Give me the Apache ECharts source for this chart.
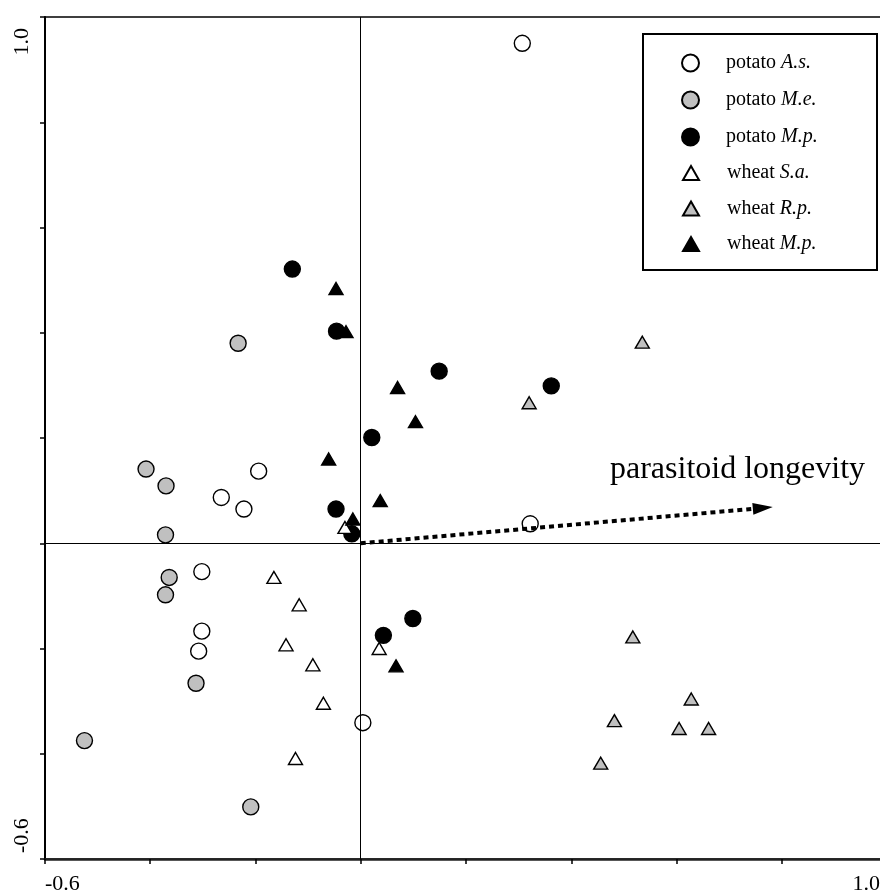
<!DOCTYPE html>
<html>
<head>
<meta charset="utf-8">
<script src="https://cdn.jsdelivr.net/npm/echarts@6/dist/echarts.min.js"></script>
<style>
  html, body { margin: 0; padding: 0; background: #fff; overflow: hidden; }
  #chart { width: 900px; height: 895px; }
</style>
</head>
<body>
<div id="chart"></div>
<script>
// Ordination scores per host/parasitoid group: [axis 1, axis 2]
const potatoAs = [
  [0.307, 0.950], [-0.194, 0.137], [-0.265, 0.087], [-0.222, 0.065], [-0.302, -0.054],
  [-0.302, -0.167], [-0.308, -0.205], [0.004, -0.341], [0.322, 0.037]
];
const potatoMe = [
  [-0.233, 0.380], [-0.408, 0.141], [-0.370, 0.109], [-0.371, 0.016], [-0.364, -0.065],
  [-0.371, -0.098], [-0.313, -0.266], [-0.525, -0.375], [-0.209, -0.501]
];
const potatoMp = [
  [-0.130, 0.521], [-0.046, 0.403], [0.149, 0.327], [0.021, 0.201], [-0.047, 0.065],
  [-0.017, 0.018], [0.099, -0.143], [0.043, -0.175], [0.362, 0.299]
];
const wheatSa = [
  [-0.030, 0.030], [-0.165, -0.065], [-0.117, -0.117], [-0.142, -0.193], [0.035, -0.200],
  [-0.091, -0.231], [-0.071, -0.304], [-0.124, -0.409]
];
const wheatRp = [
  [0.535, 0.382], [0.320, 0.267], [0.517, -0.178], [0.628, -0.296], [0.482, -0.337],
  [0.605, -0.352], [0.661, -0.352], [0.456, -0.418]
];
const wheatMp = [
  [-0.047, 0.484], [-0.028, 0.402], [0.070, 0.296], [0.104, 0.231], [-0.061, 0.160],
  [0.037, 0.081], [-0.015, 0.046], [0.067, -0.233]
];

// Environmental vector
const arrowStart = [0, 0];
const arrowEnd = [0.764, 0.067];
const arrowLabel = 'parasitoid longevity';

// Axis range and tick labels
const axisMin = -0.6;
const axisMax = 1.0;
const tickStep = 0.2;
const tickLabels = { '-0.6': '-0.6', '1.0': '1.0' };

const groups = [
  { name: 'potato A.s.', host: 'potato', sp: 'A.s.', data: potatoAs, shape: 'circle', fill: '#ffffff' },
  { name: 'potato M.e.', host: 'potato', sp: 'M.e.', data: potatoMe, shape: 'circle', fill: '#c0c0c0' },
  { name: 'potato M.p.', host: 'potato', sp: 'M.p.', data: potatoMp, shape: 'circle', fill: '#000000' },
  { name: 'wheat S.a.', host: 'wheat', sp: 'S.a.', data: wheatSa, shape: 'triangle', fill: '#ffffff' },
  { name: 'wheat R.p.', host: 'wheat', sp: 'R.p.', data: wheatRp, shape: 'triangle', fill: '#c0c0c0' },
  { name: 'wheat M.p.', host: 'wheat', sp: 'M.p.', data: wheatMp, shape: 'triangle', fill: '#000000' }
];

const SERIF = '"Liberation Serif", "Times New Roman", serif';

// Only the two end ticks carry a label; styles keep them inside the frame
function tickText(v) {
  const key = (Math.round(v * 10) / 10).toFixed(1);
  return tickLabels[key] !== undefined ? tickLabels[key] : '';
}
function fmtEnd(v) {
  const t = tickText(v);
  if (!t) return '';
  return v > 0 ? '{mx|' + t + '}' : '{mn|' + t + '}';
}

const scatterSeries = groups.map(g => ({
  name: g.name,
  type: 'scatter',
  data: g.data,
  symbol: g.shape,
  symbolSize: g.shape === 'circle' ? 16 : [14, 12],
  itemStyle: { color: g.fill, borderColor: '#000', borderWidth: 1.4, opacity: 1 },
  z: g.shape === 'circle' ? 3 : 4
}));

// Reference cross through the origin
scatterSeries[0].markLine = {
  silent: true,
  symbol: 'none',
  animation: false,
  label: { show: false },
  lineStyle: { color: '#000', width: 1, type: 'solid' },
  data: [{ xAxis: 0 }, { yAxis: 0 }]
};

const legendRich = {
  g: { width: 22 },
  a: { fontFamily: SERIF, fontSize: 20, color: '#000' },
  b: { fontFamily: SERIF, fontSize: 20, color: '#000', fontStyle: 'italic' }
};
function legendFmt(name) {
  const g = groups.find(x => x.name === name);
  return '{g|}{a|' + g.host + ' }{b|' + g.sp + '}';
}

const labelBase = { fontFamily: SERIF, fontSize: 22, color: '#000' };

const option = {
  animation: false,
  backgroundColor: '#fff',
  grid: {
    left: 45, top: 17, width: 842, height: 842,
    show: true, borderColor: '#000', borderWidth: 1.5, backgroundColor: 'transparent'
  },
  xAxis: {
    type: 'value', min: axisMin, max: axisMax, interval: tickStep,
    splitLine: { show: false },
    axisLine: { onZero: false, lineStyle: { color: '#222', width: 2.5 } },
    axisTick: { length: 5, lineStyle: { color: '#000', width: 1.5 } },
    axisLabel: {
      formatter: fmtEnd, margin: 14,
      showMinLabel: true, showMaxLabel: true,
      alignMinLabel: 'left', alignMaxLabel: 'right',
      rich: {
        mn: Object.assign({}, labelBase),
        mx: Object.assign({}, labelBase, { padding: [0, 7, 0, 0] })
      }
    }
  },
  yAxis: {
    type: 'value', min: axisMin, max: axisMax, interval: tickStep,
    splitLine: { show: false },
    axisLine: { onZero: false, lineStyle: { color: '#000', width: 2 } },
    axisTick: { length: 5, lineStyle: { color: '#000', width: 1.5 } },
    axisLabel: {
      formatter: fmtEnd, margin: 12,
      rotate: 90, showMinLabel: true, showMaxLabel: true,
      alignMinLabel: 'left', alignMaxLabel: 'right',
      rich: {
        mn: Object.assign({}, labelBase, { padding: [0, 0, 0, 6] }),
        mx: Object.assign({}, labelBase, { padding: [0, 11, 0, 0] })
      }
    }
  },
  legend: [
    {
      data: groups.slice(0, 3).map(g => g.name),
      orient: 'vertical', left: 681, top: 53, padding: 0,
      itemWidth: 17, itemHeight: 17, itemGap: 17,
      formatter: legendFmt,
      textStyle: { fontFamily: SERIF, fontSize: 20, lineHeight: 20, color: '#000', rich: legendRich },
      selectedMode: false
    },
    {
      data: groups.slice(3).map(g => g.name),
      orient: 'vertical', left: 682, top: 163, padding: 0,
      itemWidth: 16, itemHeight: 14, itemGap: 15.5,
      formatter: legendFmt,
      textStyle: { fontFamily: SERIF, fontSize: 20, lineHeight: 20, color: '#000', rich: Object.assign({}, legendRich, { g: { width: 23 } }) },
      selectedMode: false
    }
  ],
  graphic: [
    {
      type: 'rect', left: 642, top: 33, z: 1, silent: true,
      shape: { width: 234, height: 236 },
      style: { fill: '#fff', stroke: '#000', lineWidth: 2 }
    },
    {
      type: 'text', left: 610, top: 454, z: 5, silent: true,
      style: { text: arrowLabel, fontFamily: SERIF, fontSize: 32, fill: '#000' }
    }
  ],
  series: scatterSeries.concat([{
    name: 'vector',
    type: 'lines',
    coordinateSystem: 'cartesian2d',
    data: [{ coords: [arrowStart, arrowEnd] }],
    symbol: ['none', 'path://M5,0 L10,20 L0,20 Z'],
    symbolSize: [0, [12, 20]],
    lineStyle: { color: '#000', width: 4, type: [5, 4], opacity: 1, curveness: 0 },
    z: 5,
    silent: true
  }])
};

const chart = echarts.init(document.getElementById('chart'), null, { renderer: 'canvas' });
chart.setOption(option);
</script>
</body>
</html>
